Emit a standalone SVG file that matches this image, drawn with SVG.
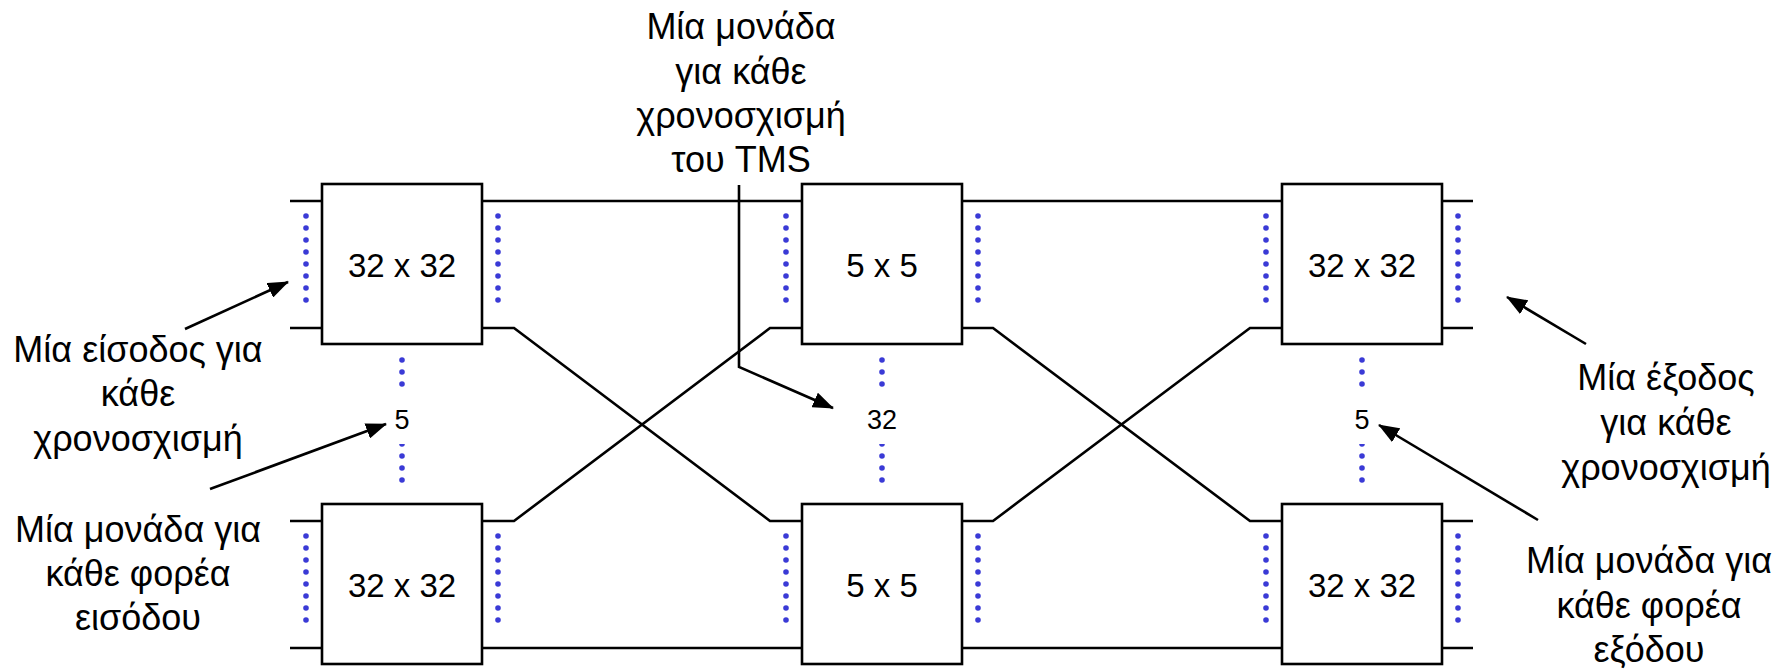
<svg xmlns="http://www.w3.org/2000/svg" width="1791" height="672" viewBox="0 0 1791 672">
<style>
.box{fill:#fff;stroke:#000;stroke-width:2.6}
.ln{fill:none;stroke:#000;stroke-width:2.6}
.arr{fill:none;stroke:#000;stroke-width:2.6;marker-end:url(#ah)}
.dots{stroke:#3a3ad6;stroke-width:5.6;stroke-linecap:round;stroke-dasharray:0 12;fill:none}
.bl{font-family:"Liberation Sans",Arial,sans-serif;font-size:33px;fill:#000;text-anchor:middle}
.lb{font-family:"Liberation Sans",Arial,sans-serif;font-size:36px;fill:#000;text-anchor:middle}
.nm{font-family:"Liberation Sans",Arial,sans-serif;font-size:27px;fill:#000;text-anchor:middle}
</style>
<defs>
<marker id="ah" markerUnits="userSpaceOnUse" markerWidth="22" markerHeight="16" refX="20" refY="8" orient="auto">
<path d="M0,0 L21,8 L0,16 z" fill="#000"/>
</marker>
</defs>

<g id="connectors">
<path class="ln" d="M290,201 H322 M290,328 H322 M290,521 H322 M290,648 H322"/>
<path class="ln" d="M482,201 H802 M962,201 H1282 M1442,201 H1473"/>
<path class="ln" d="M482,648 H802 M962,648 H1282 M1442,648 H1473"/>
<path class="ln" d="M482,328 H514 L770,521 H802"/>
<path class="ln" d="M482,521 H514 L770,328 H802"/>
<path class="ln" d="M962,328 H993 L1250,521 H1282"/>
<path class="ln" d="M962,521 H993 L1250,328 H1282"/>
<path class="ln" d="M1442,328 H1473 M1442,521 H1473"/>
<path class="arr" d="M185,329 L288,282"/>
<path class="arr" d="M210,489 L386,424"/>
<path class="arr" d="M739,185 V367 L833,408"/>
<path class="arr" d="M1586,344 L1507,297"/>
<path class="arr" d="M1538,520 L1379,425"/>
</g>

<g id="dots">
<path class="dots" d="M306,216 V301 M498,216 V301 M786,216 V301 M978,216 V301 M1266,216 V301 M1458,216 V301"/>
<path class="dots" d="M306,536 V621 M498,536 V621 M786,536 V621 M978,536 V621 M1266,536 V621 M1458,536 V621"/>
<path class="dots" d="M402,360 V481 M882,360 V481 M1362,360 V481"/>
</g>

<g id="count-left"><rect x="388" y="389" width="28" height="55" fill="#fff"/><text class="nm" x="402" y="429">5</text></g>
<g id="count-mid"><rect x="862" y="389" width="40" height="55" fill="#fff"/><text class="nm" x="882" y="429">32</text></g>
<g id="count-right"><rect x="1348" y="389" width="28" height="55" fill="#fff"/><text class="nm" x="1362" y="429">5</text></g>

<g id="n-tl"><rect class="box" x="322" y="184" width="160" height="160"/><text class="bl" x="402" y="277">32 x 32</text></g>
<g id="n-bl"><rect class="box" x="322" y="504" width="160" height="160"/><text class="bl" x="402" y="597">32 x 32</text></g>
<g id="n-tm"><rect class="box" x="802" y="184" width="160" height="160"/><text class="bl" x="882" y="277">5 x 5</text></g>
<g id="n-bm"><rect class="box" x="802" y="504" width="160" height="160"/><text class="bl" x="882" y="597">5 x 5</text></g>
<g id="n-tr"><rect class="box" x="1282" y="184" width="160" height="160"/><text class="bl" x="1362" y="277">32 x 32</text></g>
<g id="n-br"><rect class="box" x="1282" y="504" width="160" height="160"/><text class="bl" x="1362" y="597">32 x 32</text></g>

<g id="label-top"><text class="lb" x="741" y="39">Μία μονάδα</text><text class="lb" x="741" y="83.5">για κάθε</text><text class="lb" x="741" y="128">χρονοσχισμή</text><text class="lb" x="741" y="172">του TMS</text></g>
<g id="label-in"><text class="lb" x="138" y="362">Μία είσοδος για</text><text class="lb" x="138" y="406">κάθε</text><text class="lb" x="138" y="451">χρονοσχισμή</text></g>
<g id="label-inunit"><text class="lb" x="138" y="542">Μία μονάδα για</text><text class="lb" x="138" y="586">κάθε φορέα</text><text class="lb" x="138" y="630">εισόδου</text></g>
<g id="label-out"><text class="lb" x="1666" y="390">Μία έξοδος</text><text class="lb" x="1666" y="435">για κάθε</text><text class="lb" x="1666" y="480">χρονοσχισμή</text></g>
<g id="label-outunit"><text class="lb" x="1649" y="573">Μία μονάδα για</text><text class="lb" x="1649" y="618">κάθε φορέα</text><text class="lb" x="1649" y="662">εξόδου</text></g>
</svg>
